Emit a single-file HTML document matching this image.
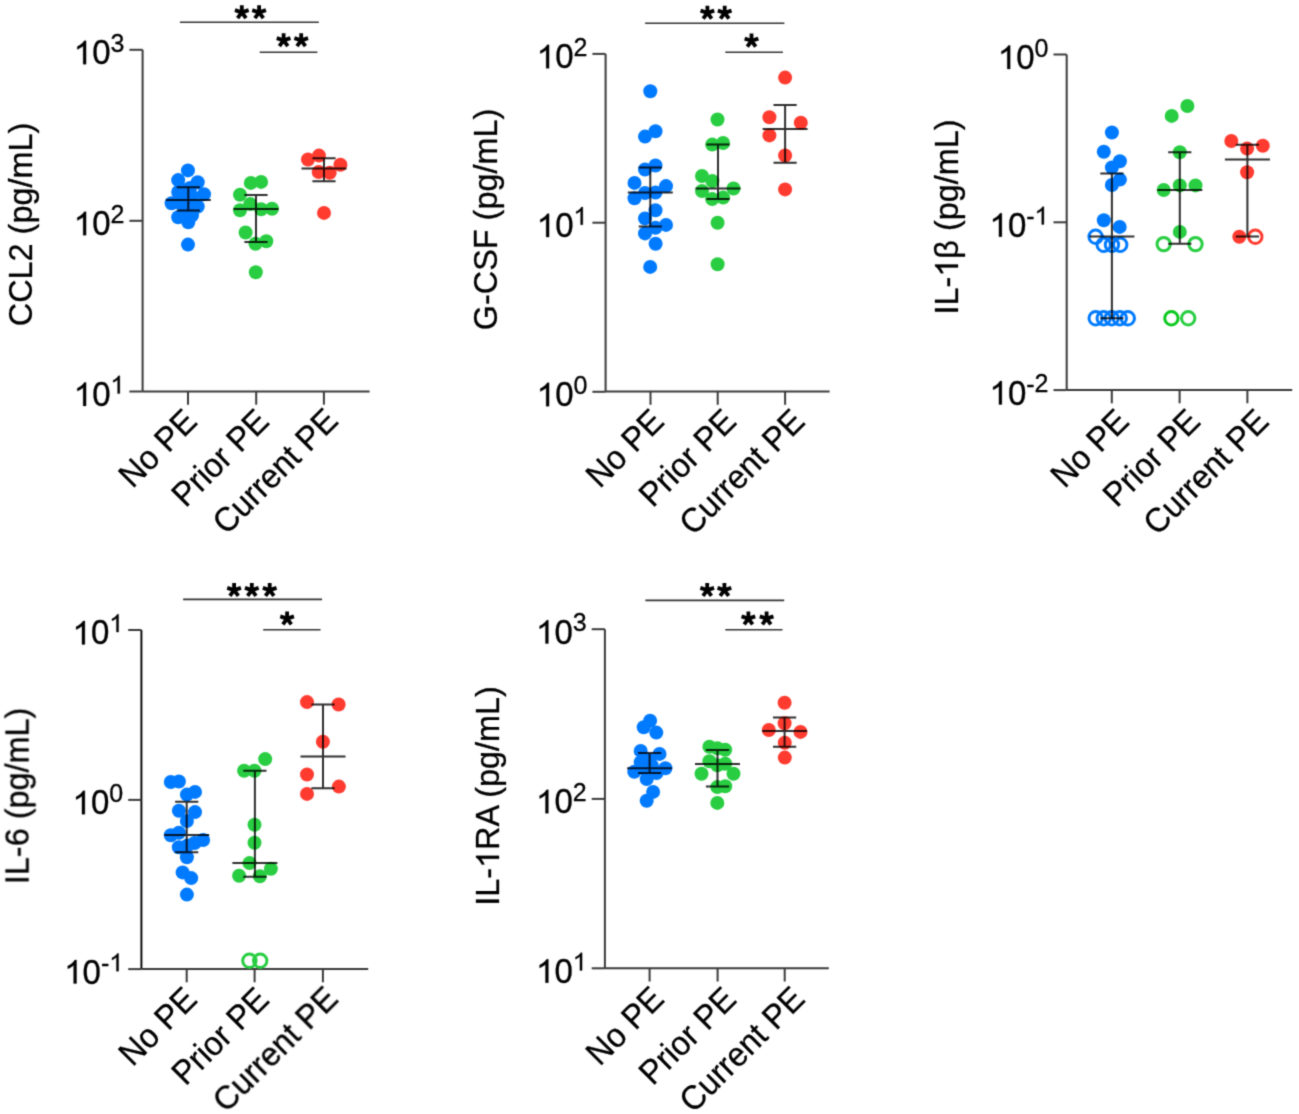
<!DOCTYPE html><html><head><meta charset="utf-8"><style>html,body{margin:0;padding:0;background:#fff;}svg{display:block;font-family:"Liberation Sans",sans-serif;}.h{fill-opacity:0;stroke-opacity:0;}</style></head><body>
<svg width="1299" height="1114" viewBox="0 0 1299 1114">
<defs><filter id="bl" x="0" y="0" width="1299" height="1114" filterUnits="userSpaceOnUse" color-interpolation-filters="sRGB"><feConvolveMatrix order="3" kernelMatrix="0.02768 0.11101 0.02768 0.11101 0.44521 0.11101 0.02768 0.11101 0.02768" edgeMode="duplicate"/></filter></defs>
<g filter="url(#bl)">
<rect width="1299" height="1114" fill="#fff"/>
<g><path d="M142.6 49.8V391.5" stroke="#3a3a3a" stroke-width="2" fill="none"/><path d="M142.6 391.5H369.6" stroke="#3a3a3a" stroke-width="2" fill="none"/><path d="M129.4 49.8H142.6" stroke="#3a3a3a" stroke-width="2" fill="none"/><path d="M129.4 220.8H142.6" stroke="#3a3a3a" stroke-width="2" fill="none"/><path d="M129.4 391.5H142.6" stroke="#3a3a3a" stroke-width="2" fill="none"/><path d="M188 391.5V404.7" stroke="#3a3a3a" stroke-width="2" fill="none"/><path d="M256.2 391.5V404.7" stroke="#3a3a3a" stroke-width="2" fill="none"/><path d="M323.9 391.5V404.7" stroke="#3a3a3a" stroke-width="2" fill="none"/><text transform="translate(124.4 64.2) scale(1 1.042)" font-size="33" text-anchor="end" stroke="#000" stroke-width="0.3" stroke-linejoin="round"><tspan class="h">1</tspan>0<tspan font-size="25" dy="-11.8">3</tspan></text><g transform="translate(124.4 64.2) scale(1 1.042)"><path transform="translate(-50.63 0) scale(0.0330 -0.0314)" d="M373 0H285V560Q253 530 201 499Q149 468 107 453V538Q181 573 238 622Q295 671 319 716H373Z" stroke="#000" stroke-width="9.09" stroke-linejoin="round"/></g><text transform="translate(124.4 235.2) scale(1 1.042)" font-size="33" text-anchor="end" stroke="#000" stroke-width="0.3" stroke-linejoin="round"><tspan class="h">1</tspan>0<tspan font-size="25" dy="-11.8">2</tspan></text><g transform="translate(124.4 235.2) scale(1 1.042)"><path transform="translate(-50.63 0) scale(0.0330 -0.0314)" d="M373 0H285V560Q253 530 201 499Q149 468 107 453V538Q181 573 238 622Q295 671 319 716H373Z" stroke="#000" stroke-width="9.09" stroke-linejoin="round"/></g><text transform="translate(124.4 405.9) scale(1 1.042)" font-size="33" text-anchor="end" stroke="#000" stroke-width="0.3" stroke-linejoin="round"><tspan class="h">1</tspan>0<tspan font-size="25" dy="-11.8"><tspan class="h">1</tspan></tspan></text><g transform="translate(124.4 405.9) scale(1 1.042)"><path transform="translate(-50.63 0) scale(0.0330 -0.0314)" d="M373 0H285V560Q253 530 201 499Q149 468 107 453V538Q181 573 238 622Q295 671 319 716H373Z" stroke="#000" stroke-width="9.09" stroke-linejoin="round"/><path transform="translate(-13.91 -11.8) scale(0.0250 -0.0238)" d="M373 0H285V560Q253 530 201 499Q149 468 107 453V538Q181 573 238 622Q295 671 319 716H373Z" stroke="#000" stroke-width="12.00" stroke-linejoin="round"/></g><text transform="translate(31.5 122.8) rotate(-90) scale(1 1.042)" font-size="32.4" text-anchor="end" stroke="#000" stroke-width="0.3" stroke-linejoin="round">CCL2 (pg/mL)</text><text transform="translate(198.75 423.15) rotate(-45) scale(1 1.042)" font-size="32.4" text-anchor="end" stroke="#000" stroke-width="0.3" stroke-linejoin="round">No PE</text><text transform="translate(270.85 423.15) rotate(-45) scale(1 1.042)" font-size="32.4" text-anchor="end" stroke="#000" stroke-width="0.3" stroke-linejoin="round">Prior PE</text><text transform="translate(339.85 422.45) rotate(-45) scale(1 1.042)" font-size="32.4" text-anchor="end" stroke="#000" stroke-width="0.3" stroke-linejoin="round">Current PE</text><circle cx="187.95" cy="170.4" r="7" fill="#007AFF"/><circle cx="178.2" cy="180.1" r="7" fill="#007AFF"/><circle cx="197.7" cy="182.3" r="7" fill="#007AFF"/><circle cx="178.2" cy="192" r="7" fill="#007AFF"/><circle cx="204" cy="194.2" r="7" fill="#007AFF"/><circle cx="171.6" cy="203.3" r="7" fill="#007AFF"/><circle cx="197.7" cy="206.5" r="7" fill="#007AFF"/><circle cx="178.2" cy="217.2" r="7" fill="#007AFF"/><circle cx="188.3" cy="222.2" r="7" fill="#007AFF"/><circle cx="192" cy="215.3" r="7" fill="#007AFF"/><circle cx="187.6" cy="189.5" r="7" fill="#007AFF"/><circle cx="187.6" cy="200" r="7" fill="#007AFF"/><circle cx="180.7" cy="203.3" r="7" fill="#007AFF"/><circle cx="190" cy="188" r="7" fill="#007AFF"/><circle cx="192" cy="196.5" r="7" fill="#007AFF"/><circle cx="186.5" cy="212" r="7" fill="#007AFF"/><circle cx="188" cy="244.6" r="7" fill="#007AFF"/><circle cx="250.8" cy="182.9" r="7" fill="#28CD41"/><circle cx="261.1" cy="181.9" r="7" fill="#28CD41"/><circle cx="240" cy="194.8" r="7" fill="#28CD41"/><circle cx="250.3" cy="204.1" r="7" fill="#28CD41"/><circle cx="240" cy="210.3" r="7" fill="#28CD41"/><circle cx="261.1" cy="209.2" r="7" fill="#28CD41"/><circle cx="272" cy="208.7" r="7" fill="#28CD41"/><circle cx="245.6" cy="232.5" r="7" fill="#28CD41"/><circle cx="255.5" cy="243.8" r="7" fill="#28CD41"/><circle cx="266.3" cy="241.2" r="7" fill="#28CD41"/><circle cx="255.8" cy="272.2" r="7" fill="#28CD41"/><circle cx="308" cy="159.5" r="7" fill="#FF3B30"/><circle cx="319" cy="155.6" r="7" fill="#FF3B30"/><circle cx="340.4" cy="164.8" r="7" fill="#FF3B30"/><circle cx="318.7" cy="172" r="7" fill="#FF3B30"/><circle cx="329.7" cy="172.8" r="7" fill="#FF3B30"/><circle cx="324" cy="212.9" r="7" fill="#FF3B30"/><path d="M188.3 187.3V210.6M176.7 187.3H199.9M176.7 210.6H199.9M165.8 199.9H210.8" stroke="rgba(0,0,0,0.82)" stroke-width="2" fill="none"/><path d="M256 195V242M244.4 195H267.6M244.4 242H267.6M233.5 209H278.5" stroke="rgba(0,0,0,0.82)" stroke-width="2" fill="none"/><path d="M324 158.3V181.2M312.4 158.3H335.6M312.4 181.2H335.6M301.5 168.6H346.5" stroke="rgba(0,0,0,0.82)" stroke-width="2" fill="none"/><path d="M179.9 22.2H318.8" stroke="#333" stroke-width="1.6" fill="none"/><path d="M241.8 12.4L241.8 5.2M241.8 12.4L248.65 10.18M241.8 12.4L246.03 18.22M241.8 12.4L237.57 18.22M241.8 12.4L234.95 10.18" stroke="#000" stroke-width="3.8" fill="none"/><path d="M259.1 12.4L259.1 5.2M259.1 12.4L265.95 10.18M259.1 12.4L263.33 18.22M259.1 12.4L254.87 18.22M259.1 12.4L252.25 10.18" stroke="#000" stroke-width="3.8" fill="none"/><path d="M259.7 52.3H317.4" stroke="#333" stroke-width="1.6" fill="none"/><path d="M283.6 40.4L283.6 33.2M283.6 40.4L290.45 38.18M283.6 40.4L287.83 46.22M283.6 40.4L279.37 46.22M283.6 40.4L276.75 38.18" stroke="#000" stroke-width="3.8" fill="none"/><path d="M301.2 40.4L301.2 33.2M301.2 40.4L308.05 38.18M301.2 40.4L305.43 46.22M301.2 40.4L296.97 46.22M301.2 40.4L294.35 38.18" stroke="#000" stroke-width="3.8" fill="none"/></g>
<g><path d="M605.6 53.9V391.6" stroke="#3a3a3a" stroke-width="2" fill="none"/><path d="M605.6 391.6H829.6" stroke="#3a3a3a" stroke-width="2" fill="none"/><path d="M592.4 53.9H605.6" stroke="#3a3a3a" stroke-width="2" fill="none"/><path d="M592.4 222.7H605.6" stroke="#3a3a3a" stroke-width="2" fill="none"/><path d="M592.4 391.8H605.6" stroke="#3a3a3a" stroke-width="2" fill="none"/><path d="M650.5 391.6V404.8" stroke="#3a3a3a" stroke-width="2" fill="none"/><path d="M717.7 391.6V404.8" stroke="#3a3a3a" stroke-width="2" fill="none"/><path d="M785.1 391.6V404.8" stroke="#3a3a3a" stroke-width="2" fill="none"/><text transform="translate(587.4 68.3) scale(1 1.042)" font-size="33" text-anchor="end" stroke="#000" stroke-width="0.3" stroke-linejoin="round"><tspan class="h">1</tspan>0<tspan font-size="25" dy="-11.8">2</tspan></text><g transform="translate(587.4 68.3) scale(1 1.042)"><path transform="translate(-50.63 0) scale(0.0330 -0.0314)" d="M373 0H285V560Q253 530 201 499Q149 468 107 453V538Q181 573 238 622Q295 671 319 716H373Z" stroke="#000" stroke-width="9.09" stroke-linejoin="round"/></g><text transform="translate(587.4 237.1) scale(1 1.042)" font-size="33" text-anchor="end" stroke="#000" stroke-width="0.3" stroke-linejoin="round"><tspan class="h">1</tspan>0<tspan font-size="25" dy="-11.8"><tspan class="h">1</tspan></tspan></text><g transform="translate(587.4 237.1) scale(1 1.042)"><path transform="translate(-50.63 0) scale(0.0330 -0.0314)" d="M373 0H285V560Q253 530 201 499Q149 468 107 453V538Q181 573 238 622Q295 671 319 716H373Z" stroke="#000" stroke-width="9.09" stroke-linejoin="round"/><path transform="translate(-13.91 -11.8) scale(0.0250 -0.0238)" d="M373 0H285V560Q253 530 201 499Q149 468 107 453V538Q181 573 238 622Q295 671 319 716H373Z" stroke="#000" stroke-width="12.00" stroke-linejoin="round"/></g><text transform="translate(587.4 406.2) scale(1 1.042)" font-size="33" text-anchor="end" stroke="#000" stroke-width="0.3" stroke-linejoin="round"><tspan class="h">1</tspan>0<tspan font-size="25" dy="-11.8">0</tspan></text><g transform="translate(587.4 406.2) scale(1 1.042)"><path transform="translate(-50.63 0) scale(0.0330 -0.0314)" d="M373 0H285V560Q253 530 201 499Q149 468 107 453V538Q181 573 238 622Q295 671 319 716H373Z" stroke="#000" stroke-width="9.09" stroke-linejoin="round"/></g><text transform="translate(496.6 108.8) rotate(-90) scale(1 1.042)" font-size="32.4" text-anchor="end" stroke="#000" stroke-width="0.3" stroke-linejoin="round">G-CSF (pg/mL)</text><text transform="translate(665.85 423.15) rotate(-45) scale(1 1.042)" font-size="32.4" text-anchor="end" stroke="#000" stroke-width="0.3" stroke-linejoin="round">No PE</text><text transform="translate(737.95 423.15) rotate(-45) scale(1 1.042)" font-size="32.4" text-anchor="end" stroke="#000" stroke-width="0.3" stroke-linejoin="round">Prior PE</text><text transform="translate(806.45 423.15) rotate(-45) scale(1 1.042)" font-size="32.4" text-anchor="end" stroke="#000" stroke-width="0.3" stroke-linejoin="round">Current PE</text><circle cx="650.3" cy="91.3" r="7" fill="#007AFF"/><circle cx="645" cy="136.6" r="7" fill="#007AFF"/><circle cx="655.5" cy="131.3" r="7" fill="#007AFF"/><circle cx="655.5" cy="165.5" r="7" fill="#007AFF"/><circle cx="645" cy="169.5" r="7" fill="#007AFF"/><circle cx="634.5" cy="182.9" r="7" fill="#007AFF"/><circle cx="666" cy="186.1" r="7" fill="#007AFF"/><circle cx="645" cy="193" r="7" fill="#007AFF"/><circle cx="655.5" cy="192.6" r="7" fill="#007AFF"/><circle cx="634.5" cy="198.2" r="7" fill="#007AFF"/><circle cx="655.5" cy="210.3" r="7" fill="#007AFF"/><circle cx="645" cy="218.4" r="7" fill="#007AFF"/><circle cx="666" cy="224.9" r="7" fill="#007AFF"/><circle cx="655.5" cy="227.7" r="7" fill="#007AFF"/><circle cx="645" cy="233.4" r="7" fill="#007AFF"/><circle cx="655.6" cy="243.7" r="7" fill="#007AFF"/><circle cx="650.2" cy="266.9" r="7" fill="#007AFF"/><circle cx="717.5" cy="119.5" r="7" fill="#28CD41"/><circle cx="712.2" cy="144.6" r="7" fill="#28CD41"/><circle cx="723.1" cy="143" r="7" fill="#28CD41"/><circle cx="702" cy="176" r="7" fill="#28CD41"/><circle cx="712.4" cy="181.1" r="7" fill="#28CD41"/><circle cx="733.5" cy="188.5" r="7" fill="#28CD41"/><circle cx="702" cy="191" r="7" fill="#28CD41"/><circle cx="712.2" cy="199.1" r="7" fill="#28CD41"/><circle cx="723.1" cy="197.6" r="7" fill="#28CD41"/><circle cx="717.6" cy="222.8" r="7" fill="#28CD41"/><circle cx="717.6" cy="264.3" r="7" fill="#28CD41"/><circle cx="785.1" cy="77.6" r="7" fill="#FF3B30"/><circle cx="769.4" cy="117.2" r="7" fill="#FF3B30"/><circle cx="800.8" cy="122.8" r="7" fill="#FF3B30"/><circle cx="769.4" cy="135.4" r="7" fill="#FF3B30"/><circle cx="785.1" cy="155.5" r="7" fill="#FF3B30"/><circle cx="785.1" cy="189.4" r="7" fill="#FF3B30"/><path d="M650.3 167.5V226.5M638.7 167.5H661.9M638.7 226.5H661.9M627.8 192.6H672.8" stroke="rgba(0,0,0,0.82)" stroke-width="2" fill="none"/><path d="M718 144.6V198.9M706.4 144.6H729.6M706.4 198.9H729.6M695.5 188.6H740.5" stroke="rgba(0,0,0,0.82)" stroke-width="2" fill="none"/><path d="M785.1 105V162.8M773.5 105H796.7M773.5 162.8H796.7M762.6 128.9H807.6" stroke="rgba(0,0,0,0.82)" stroke-width="2" fill="none"/><path d="M645.1 23.3H784.4" stroke="#333" stroke-width="1.6" fill="none"/><path d="M707.4 12.9L707.4 5.7M707.4 12.9L714.25 10.68M707.4 12.9L711.63 18.72M707.4 12.9L703.17 18.72M707.4 12.9L700.55 10.68" stroke="#000" stroke-width="3.8" fill="none"/><path d="M724.7 12.9L724.7 5.7M724.7 12.9L731.55 10.68M724.7 12.9L728.93 18.72M724.7 12.9L720.47 18.72M724.7 12.9L717.85 10.68" stroke="#000" stroke-width="3.8" fill="none"/><path d="M725.3 52.3H782.9" stroke="#333" stroke-width="1.6" fill="none"/><path d="M751.5 40.8L751.5 33.6M751.5 40.8L758.35 38.58M751.5 40.8L755.73 46.62M751.5 40.8L747.27 46.62M751.5 40.8L744.65 38.58" stroke="#000" stroke-width="3.8" fill="none"/></g>
<g><path d="M1066.7 54.5V390.1" stroke="#3a3a3a" stroke-width="2" fill="none"/><path d="M1066.7 390.1H1292.2" stroke="#3a3a3a" stroke-width="2" fill="none"/><path d="M1053.5 54.5H1066.7" stroke="#3a3a3a" stroke-width="2" fill="none"/><path d="M1053.5 222.3H1066.7" stroke="#3a3a3a" stroke-width="2" fill="none"/><path d="M1053.5 390.1H1066.7" stroke="#3a3a3a" stroke-width="2" fill="none"/><path d="M1111.8 390.1V403.3" stroke="#3a3a3a" stroke-width="2" fill="none"/><path d="M1179.6 390.1V403.3" stroke="#3a3a3a" stroke-width="2" fill="none"/><path d="M1247.4 390.1V403.3" stroke="#3a3a3a" stroke-width="2" fill="none"/><text transform="translate(1048.5 68.9) scale(1 1.042)" font-size="33" text-anchor="end" stroke="#000" stroke-width="0.3" stroke-linejoin="round"><tspan class="h">1</tspan>0<tspan font-size="25" dy="-11.8">0</tspan></text><g transform="translate(1048.5 68.9) scale(1 1.042)"><path transform="translate(-50.63 0) scale(0.0330 -0.0314)" d="M373 0H285V560Q253 530 201 499Q149 468 107 453V538Q181 573 238 622Q295 671 319 716H373Z" stroke="#000" stroke-width="9.09" stroke-linejoin="round"/></g><text transform="translate(1048.5 236.7) scale(1 1.042)" font-size="33" text-anchor="end" stroke="#000" stroke-width="0.3" stroke-linejoin="round"><tspan class="h">1</tspan>0<tspan font-size="25" dy="-10.84">-</tspan><tspan font-size="25" dy="-0.96"><tspan class="h">1</tspan></tspan></text><g transform="translate(1048.5 236.7) scale(1 1.042)"><path transform="translate(-58.95 0) scale(0.0330 -0.0314)" d="M373 0H285V560Q253 530 201 499Q149 468 107 453V538Q181 573 238 622Q295 671 319 716H373Z" stroke="#000" stroke-width="9.09" stroke-linejoin="round"/><path transform="translate(-13.91 -11.8) scale(0.0250 -0.0238)" d="M373 0H285V560Q253 530 201 499Q149 468 107 453V538Q181 573 238 622Q295 671 319 716H373Z" stroke="#000" stroke-width="12.00" stroke-linejoin="round"/></g><text transform="translate(1048.5 404.5) scale(1 1.042)" font-size="33" text-anchor="end" stroke="#000" stroke-width="0.3" stroke-linejoin="round"><tspan class="h">1</tspan>0<tspan font-size="25" dy="-10.84">-</tspan><tspan font-size="25" dy="-0.96">2</tspan></text><g transform="translate(1048.5 404.5) scale(1 1.042)"><path transform="translate(-58.95 0) scale(0.0330 -0.0314)" d="M373 0H285V560Q253 530 201 499Q149 468 107 453V538Q181 573 238 622Q295 671 319 716H373Z" stroke="#000" stroke-width="9.09" stroke-linejoin="round"/></g><text transform="translate(958 119.4) rotate(-90) scale(1 1.042)" font-size="32.4" text-anchor="end" stroke="#000" stroke-width="0.3" stroke-linejoin="round">IL-<tspan class="h">1</tspan>β (pg/mL)</text><g transform="translate(958 119.4) rotate(-90) scale(1 1.042)"><path transform="translate(-157.26 0) scale(0.0324 -0.0308)" d="M373 0H285V560Q253 530 201 499Q149 468 107 453V538Q181 573 238 622Q295 671 319 716H373Z" stroke="#000" stroke-width="9.26" stroke-linejoin="round"/></g><text transform="translate(1130.75 423.15) rotate(-45) scale(1 1.042)" font-size="32.4" text-anchor="end" stroke="#000" stroke-width="0.3" stroke-linejoin="round">No PE</text><text transform="translate(1202.05 423.15) rotate(-45) scale(1 1.042)" font-size="32.4" text-anchor="end" stroke="#000" stroke-width="0.3" stroke-linejoin="round">Prior PE</text><text transform="translate(1270.65 423.15) rotate(-45) scale(1 1.042)" font-size="32.4" text-anchor="end" stroke="#000" stroke-width="0.3" stroke-linejoin="round">Current PE</text><circle cx="1111.9" cy="132.5" r="7" fill="#007AFF"/><circle cx="1103.8" cy="151.8" r="7" fill="#007AFF"/><circle cx="1119.9" cy="161.2" r="7" fill="#007AFF"/><circle cx="1111.9" cy="167.5" r="7" fill="#007AFF"/><circle cx="1119.9" cy="179.6" r="7" fill="#007AFF"/><circle cx="1111.9" cy="185" r="7" fill="#007AFF"/><circle cx="1103.8" cy="220.2" r="7" fill="#007AFF"/><circle cx="1119.7" cy="226.9" r="7" fill="#007AFF"/><circle cx="1095.6" cy="236.7" r="6.7" fill="none" stroke="#007AFF" stroke-width="3"/><circle cx="1103.7" cy="244.7" r="6.7" fill="none" stroke="#007AFF" stroke-width="3"/><circle cx="1111.95" cy="244.7" r="6.7" fill="none" stroke="#007AFF" stroke-width="3"/><circle cx="1120.2" cy="244.7" r="6.7" fill="none" stroke="#007AFF" stroke-width="3"/><circle cx="1095.7" cy="318.2" r="6.7" fill="none" stroke="#007AFF" stroke-width="3"/><circle cx="1103.7" cy="318.2" r="6.7" fill="none" stroke="#007AFF" stroke-width="3"/><circle cx="1111.7" cy="318.2" r="6.7" fill="none" stroke="#007AFF" stroke-width="3"/><circle cx="1119.8" cy="318.2" r="6.7" fill="none" stroke="#007AFF" stroke-width="3"/><circle cx="1127.8" cy="318.2" r="6.7" fill="none" stroke="#007AFF" stroke-width="3"/><circle cx="1187.4" cy="106" r="7" fill="#28CD41"/><circle cx="1171.7" cy="115.9" r="7" fill="#28CD41"/><circle cx="1179.8" cy="152.3" r="7" fill="#28CD41"/><circle cx="1163.7" cy="190" r="7" fill="#28CD41"/><circle cx="1179.8" cy="185.4" r="7" fill="#28CD41"/><circle cx="1195.5" cy="185.4" r="7" fill="#28CD41"/><circle cx="1179.8" cy="231.9" r="7" fill="#28CD41"/><circle cx="1163.7" cy="244.1" r="6.7" fill="none" stroke="#28CD41" stroke-width="3"/><circle cx="1195.5" cy="244.1" r="6.7" fill="none" stroke="#28CD41" stroke-width="3"/><circle cx="1171.4" cy="318.2" r="6.7" fill="none" stroke="#0BC81E" stroke-width="3"/><circle cx="1188.2" cy="318.2" r="6.7" fill="none" stroke="#28CD41" stroke-width="3"/><circle cx="1231.3" cy="141" r="7" fill="#FF3B30"/><circle cx="1247.1" cy="148.6" r="7" fill="#FF3B30"/><circle cx="1262.8" cy="145.7" r="7" fill="#FF3B30"/><circle cx="1247.1" cy="172.3" r="7" fill="#FF3B30"/><circle cx="1239.3" cy="236.7" r="7" fill="#FF3B30"/><circle cx="1255.3" cy="236.7" r="6.7" fill="none" stroke="#FF3B30" stroke-width="3"/><path d="M1111.9 173.5V318.3M1100.3 173.5H1123.5M1100.3 318.3H1123.5M1089.4 236.6H1134.4" stroke="rgba(0,0,0,0.82)" stroke-width="2" fill="none"/><path d="M1179.8 152.3V243.8M1168.2 152.3H1191.4M1168.2 243.8H1191.4M1157.3 190H1202.3" stroke="rgba(0,0,0,0.82)" stroke-width="2" fill="none"/><path d="M1247.4 144.7V236.5M1235.8 144.7H1259M1235.8 236.5H1259M1224.9 159.4H1269.9" stroke="rgba(0,0,0,0.82)" stroke-width="2" fill="none"/></g>
<g><path d="M141.4 630V969.1" stroke="#000" stroke-width="1.9" fill="none"/><path d="M141.4 969.1H368.2" stroke="#3a3a3a" stroke-width="2" fill="none"/><path d="M128.2 630H141.4" stroke="#3a3a3a" stroke-width="2" fill="none"/><path d="M128.2 799.9H141.4" stroke="#3a3a3a" stroke-width="2" fill="none"/><path d="M128.2 969.1H141.4" stroke="#3a3a3a" stroke-width="2" fill="none"/><path d="M186.7 969.1V982.3" stroke="#3a3a3a" stroke-width="2" fill="none"/><path d="M254.6 969.1V982.3" stroke="#3a3a3a" stroke-width="2" fill="none"/><path d="M322.9 969.1V982.3" stroke="#3a3a3a" stroke-width="2" fill="none"/><text transform="translate(123.2 644.4) scale(1 1.042)" font-size="33" text-anchor="end" stroke="#000" stroke-width="0.3" stroke-linejoin="round"><tspan class="h">1</tspan>0<tspan font-size="25" dy="-11.8"><tspan class="h">1</tspan></tspan></text><g transform="translate(123.2 644.4) scale(1 1.042)"><path transform="translate(-50.63 0) scale(0.0330 -0.0314)" d="M373 0H285V560Q253 530 201 499Q149 468 107 453V538Q181 573 238 622Q295 671 319 716H373Z" stroke="#000" stroke-width="9.09" stroke-linejoin="round"/><path transform="translate(-13.91 -11.8) scale(0.0250 -0.0238)" d="M373 0H285V560Q253 530 201 499Q149 468 107 453V538Q181 573 238 622Q295 671 319 716H373Z" stroke="#000" stroke-width="12.00" stroke-linejoin="round"/></g><text transform="translate(123.2 814.3) scale(1 1.042)" font-size="33" text-anchor="end" stroke="#000" stroke-width="0.3" stroke-linejoin="round"><tspan class="h">1</tspan>0<tspan font-size="25" dy="-11.8">0</tspan></text><g transform="translate(123.2 814.3) scale(1 1.042)"><path transform="translate(-50.63 0) scale(0.0330 -0.0314)" d="M373 0H285V560Q253 530 201 499Q149 468 107 453V538Q181 573 238 622Q295 671 319 716H373Z" stroke="#000" stroke-width="9.09" stroke-linejoin="round"/></g><text transform="translate(123.2 983.5) scale(1 1.042)" font-size="33" text-anchor="end" stroke="#000" stroke-width="0.3" stroke-linejoin="round"><tspan class="h">1</tspan>0<tspan font-size="25" dy="-10.84">-</tspan><tspan font-size="25" dy="-0.96"><tspan class="h">1</tspan></tspan></text><g transform="translate(123.2 983.5) scale(1 1.042)"><path transform="translate(-58.95 0) scale(0.0330 -0.0314)" d="M373 0H285V560Q253 530 201 499Q149 468 107 453V538Q181 573 238 622Q295 671 319 716H373Z" stroke="#000" stroke-width="9.09" stroke-linejoin="round"/><path transform="translate(-13.91 -11.8) scale(0.0250 -0.0238)" d="M373 0H285V560Q253 530 201 499Q149 468 107 453V538Q181 573 238 622Q295 671 319 716H373Z" stroke="#000" stroke-width="12.00" stroke-linejoin="round"/></g><text transform="translate(28.8 707.7) rotate(-90) scale(1 1.042)" font-size="32.4" text-anchor="end" stroke="#000" stroke-width="0.3" stroke-linejoin="round">IL-6 (pg/mL)</text><text transform="translate(198.75 1001.25) rotate(-45) scale(1 1.042)" font-size="32.4" text-anchor="end" stroke="#000" stroke-width="0.3" stroke-linejoin="round">No PE</text><text transform="translate(270.85 1001.45) rotate(-45) scale(1 1.042)" font-size="32.4" text-anchor="end" stroke="#000" stroke-width="0.3" stroke-linejoin="round">Prior PE</text><text transform="translate(339.85 1000.75) rotate(-45) scale(1 1.042)" font-size="32.4" text-anchor="end" stroke="#000" stroke-width="0.3" stroke-linejoin="round">Current PE</text><circle cx="170.8" cy="782" r="7" fill="#007AFF"/><circle cx="178.9" cy="781.5" r="7" fill="#007AFF"/><circle cx="186.9" cy="794.6" r="7" fill="#007AFF"/><circle cx="195" cy="791.9" r="7" fill="#007AFF"/><circle cx="178.9" cy="810.7" r="7" fill="#007AFF"/><circle cx="195" cy="812.1" r="7" fill="#007AFF"/><circle cx="186.9" cy="821" r="7" fill="#007AFF"/><circle cx="170.8" cy="835.3" r="7" fill="#007AFF"/><circle cx="178.9" cy="832.7" r="7" fill="#007AFF"/><circle cx="194.6" cy="843" r="7" fill="#007AFF"/><circle cx="203.1" cy="840" r="7" fill="#007AFF"/><circle cx="178.8" cy="847.2" r="7" fill="#007AFF"/><circle cx="187.5" cy="845.5" r="7" fill="#007AFF"/><circle cx="186.9" cy="857.2" r="7" fill="#007AFF"/><circle cx="182.6" cy="872.4" r="7" fill="#007AFF"/><circle cx="191.2" cy="878.1" r="7" fill="#007AFF"/><circle cx="186.9" cy="894.6" r="7" fill="#007AFF"/><circle cx="265.2" cy="759.1" r="7" fill="#28CD41"/><circle cx="244.1" cy="770.8" r="7" fill="#28CD41"/><circle cx="254.5" cy="770.8" r="7" fill="#28CD41"/><circle cx="254.5" cy="824.8" r="7" fill="#28CD41"/><circle cx="254.5" cy="842.8" r="7" fill="#28CD41"/><circle cx="249.5" cy="863.1" r="7" fill="#28CD41"/><circle cx="270.9" cy="868.8" r="7" fill="#28CD41"/><circle cx="239.1" cy="875.7" r="7" fill="#28CD41"/><circle cx="259.9" cy="876.3" r="7" fill="#28CD41"/><circle cx="249.4" cy="960.8" r="6.7" fill="none" stroke="#28CD41" stroke-width="3"/><circle cx="260.2" cy="960.8" r="6.7" fill="none" stroke="#28CD41" stroke-width="3"/><circle cx="307" cy="702.1" r="7" fill="#FF3B30"/><circle cx="338.6" cy="704.5" r="7" fill="#FF3B30"/><circle cx="322.9" cy="741.7" r="7" fill="#FF3B30"/><circle cx="307" cy="774.5" r="7" fill="#FF3B30"/><circle cx="338.9" cy="786.6" r="7" fill="#FF3B30"/><circle cx="307" cy="793.9" r="7" fill="#FF3B30"/><path d="M186.7 801.7V852.2M175.1 801.7H198.3M175.1 852.2H198.3M164.2 835H209.2" stroke="rgba(0,0,0,0.82)" stroke-width="2" fill="none"/><path d="M254.9 770.8V876.7M243.3 770.8H266.5M243.3 876.7H266.5M232.4 862.9H277.4" stroke="rgba(0,0,0,0.82)" stroke-width="2" fill="none"/><path d="M323 704.4V788.2M311.4 704.4H334.6M311.4 788.2H334.6M300.5 756.5H345.5" stroke="rgba(0,0,0,0.82)" stroke-width="2" fill="none"/><path d="M183.1 599.4H322.1" stroke="#333" stroke-width="1.6" fill="none"/><path d="M234.1 590.1L234.1 582.9M234.1 590.1L240.95 587.88M234.1 590.1L238.33 595.92M234.1 590.1L229.87 595.92M234.1 590.1L227.25 587.88" stroke="#000" stroke-width="3.8" fill="none"/><path d="M251.8 590.1L251.8 582.9M251.8 590.1L258.65 587.88M251.8 590.1L256.03 595.92M251.8 590.1L247.57 595.92M251.8 590.1L244.95 587.88" stroke="#000" stroke-width="3.8" fill="none"/><path d="M269.7 590.1L269.7 582.9M269.7 590.1L276.55 587.88M269.7 590.1L273.93 595.92M269.7 590.1L265.47 595.92M269.7 590.1L262.85 587.88" stroke="#000" stroke-width="3.8" fill="none"/><path d="M263.2 629.8H320.5" stroke="#333" stroke-width="1.6" fill="none"/><path d="M287.1 618.6L287.1 611.4M287.1 618.6L293.95 616.38M287.1 618.6L291.33 624.42M287.1 618.6L282.87 624.42M287.1 618.6L280.25 616.38" stroke="#000" stroke-width="3.8" fill="none"/></g>
<g><path d="M604.9 629.2V968.3" stroke="#3a3a3a" stroke-width="2" fill="none"/><path d="M604.9 968.3H828.8" stroke="#3a3a3a" stroke-width="2" fill="none"/><path d="M591.7 629.2H604.9" stroke="#3a3a3a" stroke-width="2" fill="none"/><path d="M591.7 798.9H604.9" stroke="#3a3a3a" stroke-width="2" fill="none"/><path d="M591.7 968.3H604.9" stroke="#3a3a3a" stroke-width="2" fill="none"/><path d="M649.6 968.3V981.5" stroke="#3a3a3a" stroke-width="2" fill="none"/><path d="M717.6 968.3V981.5" stroke="#3a3a3a" stroke-width="2" fill="none"/><path d="M784.7 968.3V981.5" stroke="#3a3a3a" stroke-width="2" fill="none"/><text transform="translate(586.7 643.6) scale(1 1.042)" font-size="33" text-anchor="end" stroke="#000" stroke-width="0.3" stroke-linejoin="round"><tspan class="h">1</tspan>0<tspan font-size="25" dy="-11.8">3</tspan></text><g transform="translate(586.7 643.6) scale(1 1.042)"><path transform="translate(-50.63 0) scale(0.0330 -0.0314)" d="M373 0H285V560Q253 530 201 499Q149 468 107 453V538Q181 573 238 622Q295 671 319 716H373Z" stroke="#000" stroke-width="9.09" stroke-linejoin="round"/></g><text transform="translate(586.7 813.3) scale(1 1.042)" font-size="33" text-anchor="end" stroke="#000" stroke-width="0.3" stroke-linejoin="round"><tspan class="h">1</tspan>0<tspan font-size="25" dy="-11.8">2</tspan></text><g transform="translate(586.7 813.3) scale(1 1.042)"><path transform="translate(-50.63 0) scale(0.0330 -0.0314)" d="M373 0H285V560Q253 530 201 499Q149 468 107 453V538Q181 573 238 622Q295 671 319 716H373Z" stroke="#000" stroke-width="9.09" stroke-linejoin="round"/></g><text transform="translate(586.7 982.7) scale(1 1.042)" font-size="33" text-anchor="end" stroke="#000" stroke-width="0.3" stroke-linejoin="round"><tspan class="h">1</tspan>0<tspan font-size="25" dy="-11.8"><tspan class="h">1</tspan></tspan></text><g transform="translate(586.7 982.7) scale(1 1.042)"><path transform="translate(-50.63 0) scale(0.0330 -0.0314)" d="M373 0H285V560Q253 530 201 499Q149 468 107 453V538Q181 573 238 622Q295 671 319 716H373Z" stroke="#000" stroke-width="9.09" stroke-linejoin="round"/><path transform="translate(-13.91 -11.8) scale(0.0250 -0.0238)" d="M373 0H285V560Q253 530 201 499Q149 468 107 453V538Q181 573 238 622Q295 671 319 716H373Z" stroke="#000" stroke-width="12.00" stroke-linejoin="round"/></g><text transform="translate(499 686.1) rotate(-90) scale(1 1.042)" font-size="32.4" text-anchor="end" stroke="#000" stroke-width="0.3" stroke-linejoin="round">IL-<tspan class="h">1</tspan>RA (pg/mL)</text><g transform="translate(499 686.1) rotate(-90) scale(1 1.042)"><path transform="translate(-181.83 0) scale(0.0324 -0.0308)" d="M373 0H285V560Q253 530 201 499Q149 468 107 453V538Q181 573 238 622Q295 671 319 716H373Z" stroke="#000" stroke-width="9.26" stroke-linejoin="round"/></g><text transform="translate(665.85 1000.75) rotate(-45) scale(1 1.042)" font-size="32.4" text-anchor="end" stroke="#000" stroke-width="0.3" stroke-linejoin="round">No PE</text><text transform="translate(737.95 1001.25) rotate(-45) scale(1 1.042)" font-size="32.4" text-anchor="end" stroke="#000" stroke-width="0.3" stroke-linejoin="round">Prior PE</text><text transform="translate(806.45 1000.75) rotate(-45) scale(1 1.042)" font-size="32.4" text-anchor="end" stroke="#000" stroke-width="0.3" stroke-linejoin="round">Current PE</text><circle cx="650.1" cy="720.8" r="7" fill="#007AFF"/><circle cx="643.7" cy="727.2" r="7" fill="#007AFF"/><circle cx="656.3" cy="732.6" r="7" fill="#007AFF"/><circle cx="640.7" cy="750.9" r="7" fill="#007AFF"/><circle cx="659.5" cy="753.9" r="7" fill="#007AFF"/><circle cx="640.7" cy="762.3" r="7" fill="#007AFF"/><circle cx="649.6" cy="760.3" r="7" fill="#007AFF"/><circle cx="665.4" cy="768.2" r="7" fill="#007AFF"/><circle cx="634.3" cy="771.7" r="7" fill="#007AFF"/><circle cx="646.7" cy="779.1" r="7" fill="#007AFF"/><circle cx="656.5" cy="773.1" r="7" fill="#007AFF"/><circle cx="645.5" cy="770" r="7" fill="#007AFF"/><circle cx="652" cy="766" r="7" fill="#007AFF"/><circle cx="653.1" cy="791.9" r="7" fill="#007AFF"/><circle cx="646.7" cy="800.8" r="7" fill="#007AFF"/><circle cx="709.4" cy="746.8" r="7" fill="#28CD41"/><circle cx="717.3" cy="748.3" r="7" fill="#28CD41"/><circle cx="725.2" cy="749.7" r="7" fill="#28CD41"/><circle cx="709.4" cy="761.2" r="7" fill="#28CD41"/><circle cx="725.2" cy="763.7" r="7" fill="#28CD41"/><circle cx="717.3" cy="765.2" r="7" fill="#28CD41"/><circle cx="701.5" cy="773.8" r="7" fill="#28CD41"/><circle cx="733.5" cy="773.8" r="7" fill="#28CD41"/><circle cx="717.3" cy="787.1" r="7" fill="#28CD41"/><circle cx="725.2" cy="786.3" r="7" fill="#28CD41"/><circle cx="717.3" cy="802.9" r="7" fill="#28CD41"/><circle cx="784.6" cy="702.8" r="7" fill="#FF3B30"/><circle cx="784.6" cy="723.2" r="7" fill="#FF3B30"/><circle cx="768.8" cy="730" r="7" fill="#FF3B30"/><circle cx="800.5" cy="731.9" r="7" fill="#FF3B30"/><circle cx="784.8" cy="742.8" r="7" fill="#FF3B30"/><circle cx="784.8" cy="757.6" r="7" fill="#FF3B30"/><path d="M649.6 753.1V772.9M638 753.1H661.2M638 772.9H661.2M627.1 768.2H672.1" stroke="rgba(0,0,0,0.82)" stroke-width="2" fill="none"/><path d="M717.5 749.9V786.6M705.9 749.9H729.1M705.9 786.6H729.1M695 763.9H740" stroke="rgba(0,0,0,0.82)" stroke-width="2" fill="none"/><path d="M784.6 717.6V746.7M773 717.6H796.2M773 746.7H796.2M762.1 731H807.1" stroke="rgba(0,0,0,0.82)" stroke-width="2" fill="none"/><path d="M645.4 600.4H784.2" stroke="#333" stroke-width="1.6" fill="none"/><path d="M707.2 590.1L707.2 582.9M707.2 590.1L714.05 587.88M707.2 590.1L711.43 595.92M707.2 590.1L702.97 595.92M707.2 590.1L700.35 587.88" stroke="#000" stroke-width="3.8" fill="none"/><path d="M724.4 590.1L724.4 582.9M724.4 590.1L731.25 587.88M724.4 590.1L728.63 595.92M724.4 590.1L720.17 595.92M724.4 590.1L717.55 587.88" stroke="#000" stroke-width="3.8" fill="none"/><path d="M725.3 629.8H782.5" stroke="#333" stroke-width="1.6" fill="none"/><path d="M748.4 618.6L748.4 611.4M748.4 618.6L755.25 616.38M748.4 618.6L752.63 624.42M748.4 618.6L744.17 624.42M748.4 618.6L741.55 616.38" stroke="#000" stroke-width="3.8" fill="none"/><path d="M766.6 618.6L766.6 611.4M766.6 618.6L773.45 616.38M766.6 618.6L770.83 624.42M766.6 618.6L762.37 624.42M766.6 618.6L759.75 616.38" stroke="#000" stroke-width="3.8" fill="none"/></g>
</g></svg></body></html>
